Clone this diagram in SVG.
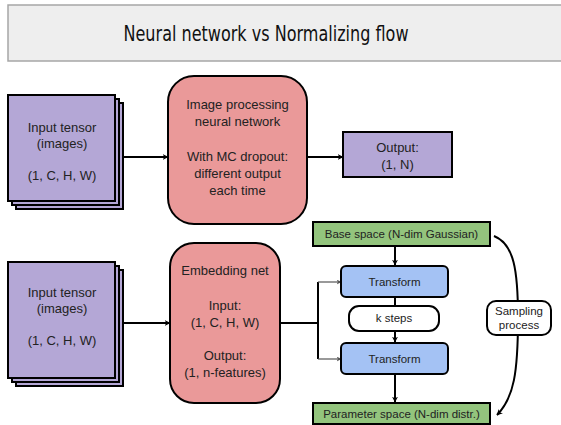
<svg xmlns="http://www.w3.org/2000/svg" width="561" height="425" viewBox="0 0 561 425">
<defs>
<style>
.t{font-family:"Liberation Sans",Arial,sans-serif;font-size:13px;fill:#222;text-anchor:middle}
.s{font-family:"Liberation Sans",Arial,sans-serif;font-size:11.5px;fill:#222;text-anchor:middle}
.purple{fill:#b4a7d6;stroke:#000;stroke-width:2}
.red{fill:#ea9999;stroke:#000;stroke-width:2}
.green{fill:#93c47d;stroke:#000;stroke-width:2}
.blue{fill:#a4c2f4;stroke:#000;stroke-width:2}
.white{fill:#fff;stroke:#000;stroke-width:2}
.line{fill:none;stroke:#000;stroke-width:2}
.thin{fill:none;stroke:#555;stroke-width:1.2}
</style>
<marker id="ah" viewBox="0 0 10 10" refX="9" refY="5" markerWidth="6" markerHeight="6" markerUnits="userSpaceOnUse" orient="auto">
<path d="M0,0 L10,5 L0,10 L3,5 z" fill="#000"/>
</marker>
<marker id="ahs" viewBox="0 0 10 10" refX="9" refY="5" markerWidth="5" markerHeight="5" markerUnits="userSpaceOnUse" orient="auto">
<path d="M0,0 L10,5 L0,10 L3,5 z" fill="#555"/>
</marker>
</defs>
<rect width="561" height="425" fill="#fff"/>

<g id="title">
<rect x="8" y="5" width="560" height="56" fill="#eeeeee" stroke="#a6a6a6" stroke-width="1.5"/>
<text x="266" y="41" font-family="'DejaVu Sans Condensed','DejaVu Sans',sans-serif" font-size="21" fill="#111" text-anchor="middle" textLength="285" lengthAdjust="spacingAndGlyphs">Neural network vs Normalizing flow</text>
</g>

<g id="connectors">
<line class="line" x1="124" y1="157" x2="168" y2="157" marker-end="url(#ah)"/>
<line class="line" x1="307" y1="157" x2="343" y2="157" marker-end="url(#ah)"/>
<line class="line" x1="124" y1="323" x2="170" y2="323" marker-end="url(#ah)"/>
<polyline class="line" points="280,323 318,323"/>
<line class="line" x1="318" y1="282" x2="318" y2="359"/>
<line class="thin" x1="318" y1="282" x2="341" y2="282" marker-end="url(#ahs)"/>
<line class="thin" x1="318" y1="359" x2="341" y2="359" marker-end="url(#ahs)"/>
<line class="line" x1="395" y1="246" x2="395" y2="265" stroke-width="1.5" marker-end="url(#ah)"/>
<line class="line" x1="395" y1="297" x2="395" y2="306" stroke-width="1.5"/>
<line class="line" x1="395" y1="331" x2="395" y2="342" stroke-width="1.5" marker-end="url(#ah)"/>
<line class="line" x1="395" y1="374" x2="395" y2="402" stroke-width="1.5" marker-end="url(#ah)"/>
<path class="line" d="M494,236 C514,244 518,270 518,318 C518,372 514,398 497,415" stroke-width="1.5" marker-end="url(#ah)"/>
</g>

<g id="input1">
<rect class="purple" x="16" y="103" width="107" height="106"/>
<rect class="purple" x="12" y="99" width="107" height="106"/>
<rect class="purple" x="8" y="95" width="107" height="106"/>
<text class="t" x="62" y="132">Input tensor</text>
<text class="t" x="62" y="148">(images)</text>
<text class="t" x="62" y="180">(1, C, H, W)</text>
</g>

<g id="nn">
<rect class="red" x="168" y="76" width="139" height="148" rx="26" ry="26"/>
<text class="t" x="237.5" y="109">Image processing</text>
<text class="t" x="237.5" y="126">neural network</text>
<text class="t" x="237.5" y="161">With MC dropout:</text>
<text class="t" x="237.5" y="178">different output</text>
<text class="t" x="237.5" y="195">each time</text>
</g>

<g id="output">
<rect class="purple" x="343" y="132" width="109" height="45"/>
<text class="t" x="397.5" y="152">Output:</text>
<text class="t" x="397.5" y="169">(1, N)</text>
</g>

<g id="input2">
<rect class="purple" x="16" y="270" width="107" height="116"/>
<rect class="purple" x="12" y="266" width="107" height="116"/>
<rect class="purple" x="8" y="262" width="107" height="116"/>
<text class="t" x="62" y="297">Input tensor</text>
<text class="t" x="62" y="313">(images)</text>
<text class="t" x="62" y="345">(1, C, H, W)</text>
</g>

<g id="embedding">
<rect class="red" x="170" y="243" width="110" height="160" rx="24" ry="24"/>
<text class="t" x="225" y="275">Embedding net</text>
<text class="t" x="225" y="310">Input:</text>
<text class="t" x="225" y="327">(1, C, H, W)</text>
<text class="t" x="225" y="360">Output:</text>
<text class="t" x="225" y="377">(1, n-features)</text>
</g>

<g id="base">
<rect class="green" x="313" y="222" width="177" height="24"/>
<text class="s" x="401.5" y="238">Base space (N-dim Gaussian)</text>
</g>

<g id="transform1">
<rect class="blue" x="341" y="266" width="107" height="31" rx="5" ry="5"/>
<text class="s" x="394.5" y="286">Transform</text>
</g>

<g id="ksteps">
<rect class="white" x="349" y="306" width="90" height="25" rx="10" ry="10"/>
<text class="s" x="394" y="322">k steps</text>
</g>

<g id="transform2">
<rect class="blue" x="341" y="343" width="107" height="31" rx="5" ry="5"/>
<text class="s" x="394.5" y="363">Transform</text>
</g>

<g id="param">
<rect class="green" x="313" y="403" width="177" height="21"/>
<text class="s" x="401.5" y="418">Parameter space (N-dim distr.)</text>
</g>

<g id="sampling">
<rect class="white" x="487" y="301" width="64" height="34" rx="9" ry="9"/>
<text class="s" x="519" y="315">Sampling</text>
<text class="s" x="519" y="329">process</text>
</g>
</svg>
